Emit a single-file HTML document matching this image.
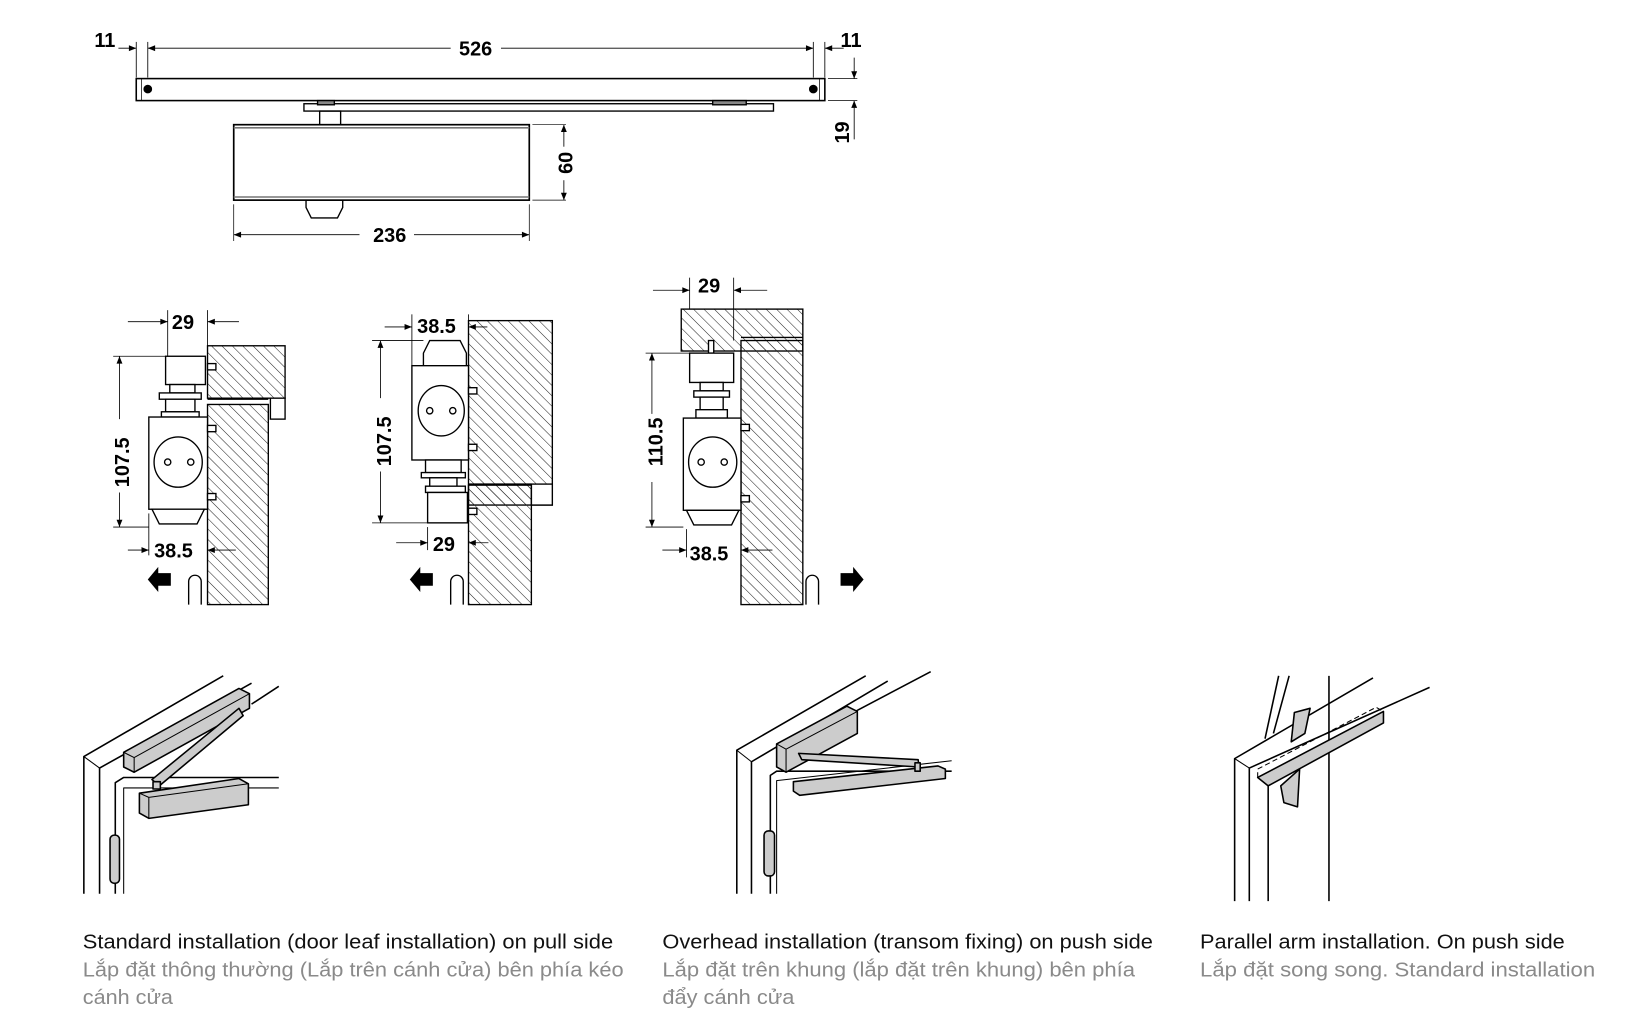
<!DOCTYPE html>
<html><head><meta charset="utf-8"><style>
html,body{margin:0;padding:0;background:#fff;}
svg{display:block}
.t{font-family:"Liberation Sans",sans-serif;font-weight:bold;font-size:19px;fill:#000}
.c{font-family:"Liberation Sans","Noto Sans CJK SC",sans-serif;font-size:19.5px}
</style></head><body>
<svg width="1635" height="1030" viewBox="0 0 1560 983" preserveAspectRatio="none" xmlns="http://www.w3.org/2000/svg">
<defs>
<pattern id="h" width="7" height="7" patternUnits="userSpaceOnUse" patternTransform="rotate(-45)">
<line x1="0" y1="0" x2="0" y2="7" stroke="#222" stroke-width="1"/>
</pattern>
<marker id="a" viewBox="0 0 10 10" refX="10" refY="5" markerWidth="9" markerHeight="7" orient="auto-start-reverse" markerUnits="userSpaceOnUse"><path d="M0,1 L10,5 L0,9z" fill="#000"/></marker>
</defs>
<g stroke="#000" stroke-width="1.3" fill="none">
<line x1="130" y1="40" x2="130" y2="74" stroke-width="0.8"/>
<line x1="141" y1="40" x2="141" y2="74" stroke-width="0.8"/>
<line x1="776" y1="40" x2="776" y2="74" stroke-width="0.8"/>
<line x1="787" y1="40" x2="787" y2="74" stroke-width="0.8"/>
<line x1="113" y1="46" x2="130" y2="46" marker-end="url(#a)" stroke-width="0.8"/>
<line x1="141" y1="46" x2="430" y2="46" marker-start="url(#a)" stroke-width="0.8"/>
<line x1="478" y1="46" x2="776" y2="46" marker-end="url(#a)" stroke-width="0.8"/>
<line x1="805" y1="46" x2="787" y2="46" marker-end="url(#a)" stroke-width="0.8"/>
<rect x="130" y="75" width="657" height="21" stroke-width="1.5"/>
<line x1="135" y1="75" x2="135" y2="96" stroke-width="0.7"/>
<line x1="782" y1="75" x2="782" y2="96" stroke-width="0.7"/>
<circle cx="141" cy="85" r="3.5" fill="#000"/>
<circle cx="776" cy="85" r="3.5" fill="#000"/>
<line x1="790" y1="75" x2="818" y2="75" stroke-width="0.7"/>
<line x1="790" y1="96" x2="818" y2="96" stroke-width="0.7"/>
<line x1="815" y1="55" x2="815" y2="75" marker-end="url(#a)" stroke-width="0.8"/>
<line x1="815" y1="133" x2="815" y2="96" marker-end="url(#a)" stroke-width="0.8"/>
<rect x="290" y="99" width="448" height="7"/>
<rect x="680" y="96" width="32" height="4" fill="#888"/>
<rect x="303" y="96" width="16" height="4" fill="#888"/>
<rect x="305" y="106" width="20" height="13"/>
<rect x="223" y="119" width="282" height="72" stroke-width="1.6"/>
<line x1="223" y1="122" x2="505" y2="122" stroke="#777" stroke-width="1.5"/>
<line x1="223" y1="188" x2="505" y2="188" stroke="#777" stroke-width="1.5"/>
<path d="M292,191 h35 v7 l-5,10 h-25 l-5,-10z"/>
<line x1="508" y1="119" x2="540" y2="119" stroke-width="0.7"/>
<line x1="508" y1="191" x2="540" y2="191" stroke-width="0.7"/>
<line x1="538" y1="140" x2="538" y2="119" marker-end="url(#a)" stroke-width="0.8"/>
<line x1="538" y1="172" x2="538" y2="191" marker-end="url(#a)" stroke-width="0.8"/>
<line x1="223" y1="195" x2="223" y2="230" stroke-width="0.7"/>
<line x1="505" y1="195" x2="505" y2="230" stroke-width="0.7"/>
<line x1="343" y1="224" x2="223" y2="224" marker-end="url(#a)" stroke-width="0.8"/>
<line x1="395" y1="224" x2="505" y2="224" marker-end="url(#a)" stroke-width="0.8"/>
</g>
<text class="t" x="90" y="45">11</text>
<text class="t" x="438" y="53">526</text>
<text class="t" x="802" y="45">11</text>
<text class="t" x="0" y="0" transform="translate(810,137) rotate(-90)">19</text>
<text class="t" x="0" y="0" transform="translate(546,166) rotate(-90)">60</text>
<text class="t" x="356" y="231">236</text>

<!-- section 1 -->
<g stroke="#000" stroke-width="1.3">
<rect x="198" y="330" width="74" height="50" fill="url(#h)"/>
<rect x="258" y="380" width="14" height="20" fill="#fff"/>
<rect x="198" y="386" width="58" height="191" fill="url(#h)"/>
<line x1="198" y1="381" x2="256" y2="381"/>
<g fill="#fff">
<rect x="158" y="340" width="38" height="27"/>
<rect x="162" y="367" width="24" height="8"/>
<rect x="152" y="375" width="40" height="6"/>
<rect x="158" y="381" width="28" height="12"/>
<rect x="154" y="393" width="36" height="5"/>
<rect x="142" y="398" width="56" height="88"/>
<ellipse cx="170" cy="441" rx="23" ry="24"/>
<path d="M145,486 h50 l-7,14 h-36z"/>
<rect x="198" y="347" width="8" height="6"/><rect x="198" y="406" width="8" height="6"/><rect x="198" y="471" width="8" height="6"/>
<path d="M180,577 v-22 a6,6 0 0 1 12,0 v22"/>
</g>
<circle cx="160" cy="441" r="3" fill="#fff"/><circle cx="182" cy="441" r="3" fill="#fff"/>
</g>
<g stroke="#000" stroke-width="0.8" fill="none">
<line x1="160" y1="296" x2="160" y2="340"/><line x1="198" y1="296" x2="198" y2="330"/>
<line x1="122" y1="307" x2="160" y2="307" marker-end="url(#a)"/><line x1="228" y1="307" x2="198" y2="307" marker-end="url(#a)"/>
<line x1="108" y1="340" x2="158" y2="340"/><line x1="108" y1="503" x2="142" y2="503"/>
<line x1="114" y1="400" x2="114" y2="340" marker-end="url(#a)"/><line x1="114" y1="470" x2="114" y2="503" marker-end="url(#a)"/>
<line x1="142" y1="490" x2="142" y2="530"/>
<line x1="122" y1="525" x2="142" y2="525" marker-end="url(#a)"/><line x1="225" y1="525" x2="198" y2="525" marker-end="url(#a)"/>
</g>
<path d="M141,553 l10,-12 v6 h12 v12 h-12 v6z" fill="#000"/>
<text class="t" x="164" y="314">29</text>
<text class="t" x="147" y="532">38.5</text>
<text class="t" x="0" y="0" transform="translate(123,465) rotate(-90)">107.5</text>

<!-- section 2 -->
<g stroke="#000" stroke-width="1.3">
<rect x="447" y="306" width="80" height="176" fill="url(#h)"/>
<rect x="507" y="462" width="20" height="20" fill="#fff"/>
<rect x="447" y="463" width="60" height="114" fill="url(#h)"/>
<line x1="447" y1="462" x2="507" y2="462"/>
<g fill="#fff">
<path d="M404,349 v-12 l6,-12 h29 l6,12 v12z"/>
<rect x="393" y="349" width="54" height="90"/>
<ellipse cx="421" cy="392" rx="22" ry="24"/>
<rect x="406" y="439" width="34" height="12"/>
<rect x="402" y="451" width="42" height="5"/>
<rect x="410" y="456" width="26" height="8"/>
<rect x="406" y="464" width="38" height="6"/>
<rect x="408" y="470" width="38" height="29"/>
<rect x="447" y="370" width="8" height="6"/><rect x="447" y="424" width="8" height="6"/><rect x="447" y="485" width="8" height="6"/>
<path d="M430,577 v-22 a6,6 0 0 1 12,0 v22"/>
</g>
<circle cx="410" cy="392" r="3" fill="#fff"/><circle cx="432" cy="392" r="3" fill="#fff"/>
</g>
<g stroke="#000" stroke-width="0.8" fill="none">
<line x1="393" y1="300" x2="393" y2="349"/><line x1="447" y1="300" x2="447" y2="306"/>
<line x1="367" y1="312" x2="393" y2="312" marker-end="url(#a)"/><line x1="465" y1="312" x2="447" y2="312" marker-end="url(#a)"/>
<line x1="355" y1="325" x2="404" y2="325"/><line x1="355" y1="499" x2="408" y2="499"/>
<line x1="363" y1="380" x2="363" y2="325" marker-end="url(#a)"/><line x1="363" y1="450" x2="363" y2="499" marker-end="url(#a)"/>
<line x1="408" y1="503" x2="408" y2="525"/>
<line x1="378" y1="518" x2="408" y2="518" marker-end="url(#a)"/><line x1="466" y1="518" x2="447" y2="518" marker-end="url(#a)"/>
</g>
<path d="M391,553 l10,-12 v6 h12 v12 h-12 v6z" fill="#000"/>
<text class="t" x="398" y="318">38.5</text>
<text class="t" x="413" y="526">29</text>
<text class="t" x="0" y="0" transform="translate(373,445) rotate(-90)">107.5</text>

<!-- section 3 -->
<g stroke="#000" stroke-width="1.3">
<rect x="650" y="295" width="116" height="40" fill="url(#h)"/>
<rect x="707" y="325" width="59" height="252" fill="url(#h)"/>
<line x1="707" y1="322" x2="766" y2="322"/>
<g fill="#fff">
<rect x="676" y="325" width="5" height="12"/>
<rect x="658" y="337" width="42" height="28"/>
<rect x="668" y="365" width="22" height="8"/>
<rect x="662" y="373" width="34" height="6"/>
<rect x="668" y="379" width="22" height="12"/>
<rect x="664" y="391" width="30" height="8"/>
<rect x="652" y="399" width="55" height="88"/>
<ellipse cx="680" cy="441" rx="23" ry="24"/>
<path d="M655,487 h50 l-7,14 h-36z"/>
<rect x="707" y="405" width="8" height="6"/><rect x="707" y="473" width="8" height="6"/>
<path d="M769,577 v-22 a6,6 0 0 1 12,0 v22"/>
</g>
<circle cx="669" cy="441" r="3" fill="#fff"/><circle cx="691" cy="441" r="3" fill="#fff"/>
</g>
<g stroke="#000" stroke-width="0.8" fill="none">
<line x1="658" y1="265" x2="658" y2="295"/><line x1="700" y1="265" x2="700" y2="325"/>
<line x1="623" y1="277" x2="658" y2="277" marker-end="url(#a)"/><line x1="732" y1="277" x2="700" y2="277" marker-end="url(#a)"/>
<line x1="616" y1="337" x2="658" y2="337"/><line x1="616" y1="503" x2="652" y2="503"/>
<line x1="622" y1="395" x2="622" y2="337" marker-end="url(#a)"/><line x1="622" y1="460" x2="622" y2="503" marker-end="url(#a)"/>
<line x1="655" y1="505" x2="655" y2="532"/>
<line x1="632" y1="525" x2="655" y2="525" marker-end="url(#a)"/><line x1="737" y1="525" x2="707" y2="525" marker-end="url(#a)"/>
</g>
<path d="M824,553 l-10,-12 v6 h-12 v12 h12 v6z" fill="#000"/>
<text class="t" x="666" y="279">29</text>
<text class="t" x="658" y="535">38.5</text>
<text class="t" x="0" y="0" transform="translate(632,445) rotate(-90)">110.5</text>

<!-- perspective 1 -->
<g stroke="#000" stroke-width="1.5" fill="none" stroke-linejoin="round">
<path d="M80,853 V722 L213,645"/>
<path d="M95,853 V733 L240,652"/>
<line x1="95" y1="733" x2="80" y2="722" stroke-width="1"/>
<path d="M110,853 V747 l8,-5 h148"/>
<path d="M118,853 V752 H266" stroke-width="1"/>
<line x1="240" y1="672" x2="266" y2="655"/>
<path d="M118,718 L228,657 L238,662 V676 L128,737 L118,732z" fill="#ccc"/>
<path d="M118,718 L128,723 L238,662" stroke-width="1"/><line x1="128" y1="723" x2="128" y2="737" stroke-width="1"/>
<path d="M145,744 L228,676 L232,683 L152,750z" fill="#ccc"/>
<rect x="146" y="746" width="7" height="7" fill="#ccc"/>
<path d="M133,757 L228,743 L237,748 V768 L142,781 L133,776z" fill="#ccc"/>
<path d="M133,757 L142,761 L237,748 M142,761 V781" stroke-width="1"/>
<rect x="105" y="797" width="9" height="46" rx="4" fill="#ccc"/>
</g>
<!-- perspective 2 -->
<g stroke="#000" stroke-width="1.5" fill="none" stroke-linejoin="round">
<path d="M703,853 V716 L826,645"/>
<path d="M717,853 V727 L847,650"/>
<line x1="703" y1="716" x2="717" y2="727" stroke-width="1"/>
<path d="M735,853 V740 l6,-4 h167"/>
<path d="M741,853 V745 L908,726" stroke-width="1"/>
<line x1="814" y1="680" x2="888" y2="641"/>
<path d="M741,710 L808,674 L818,679 V700 L750,737 L741,732z" fill="#ccc"/>
<path d="M741,710 L750,715 L818,679 M750,715 V737" stroke-width="1"/>
<path d="M762,719 L876,725 L877,732 L765,725z" fill="#ccc"/>
<path d="M757,746 L895,731 L902,734 V743 L763,759 L757,755z" fill="#ccc"/>
<rect x="873" y="728" width="5" height="8" fill="#ccc"/>
<rect x="729" y="793" width="10" height="43" rx="4" fill="#ccc"/>
</g>
<!-- perspective 3 -->
<g stroke="#000" stroke-width="1.5" fill="none" stroke-linejoin="round">
<path d="M1178,860 V724 L1310,647"/>
<path d="M1192,860 V733 L1364,656"/>
<line x1="1178" y1="724" x2="1192" y2="733" stroke-width="1"/>
<path d="M1210,860 V742"/>
<line x1="1268" y1="860" x2="1268" y2="645"/>
<line x1="1207" y1="705" x2="1220" y2="645"/>
<line x1="1215" y1="700" x2="1230" y2="645"/>
<path d="M1235,680 L1250,676 L1245,700 L1232,708z" fill="#ccc"/>
<path d="M1222,750 L1240,734 L1238,770 L1225,766z" fill="#ccc"/>
<path d="M1200,742 L1320,679 V690 L1210,750z" fill="#ccc"/>
<path d="M1200,742 L1200,734 L1313,675 L1320,679" stroke-dasharray="5,3" stroke-width="1"/>
</g>

<text class="c" x="79" y="905" fill="#111" textLength="506" lengthAdjust="spacingAndGlyphs">Standard installation (door leaf installation) on pull side</text>
<text class="c" x="79" y="932" fill="#8a8a8a" textLength="516" lengthAdjust="spacingAndGlyphs">Lắp đặt thông thường (Lắp trên cánh cửa) bên phía kéo</text>
<text class="c" x="79" y="958" fill="#8a8a8a" textLength="86" lengthAdjust="spacingAndGlyphs">cánh cửa</text>
<text class="c" x="632" y="905" fill="#111" textLength="468" lengthAdjust="spacingAndGlyphs">Overhead installation (transom fixing) on push side</text>
<text class="c" x="632" y="932" fill="#8a8a8a" textLength="451" lengthAdjust="spacingAndGlyphs">Lắp đặt trên khung (lắp đặt trên khung) bên phía</text>
<text class="c" x="632" y="958" fill="#8a8a8a" textLength="126" lengthAdjust="spacingAndGlyphs">đẩy cánh cửa</text>
<text class="c" x="1145" y="905" fill="#111" textLength="348" lengthAdjust="spacingAndGlyphs">Parallel arm installation. On push side</text>
<text class="c" x="1145" y="932" fill="#8a8a8a" textLength="377" lengthAdjust="spacingAndGlyphs">Lắp đặt song song. Standard installation</text>
</svg>
</body></html>
